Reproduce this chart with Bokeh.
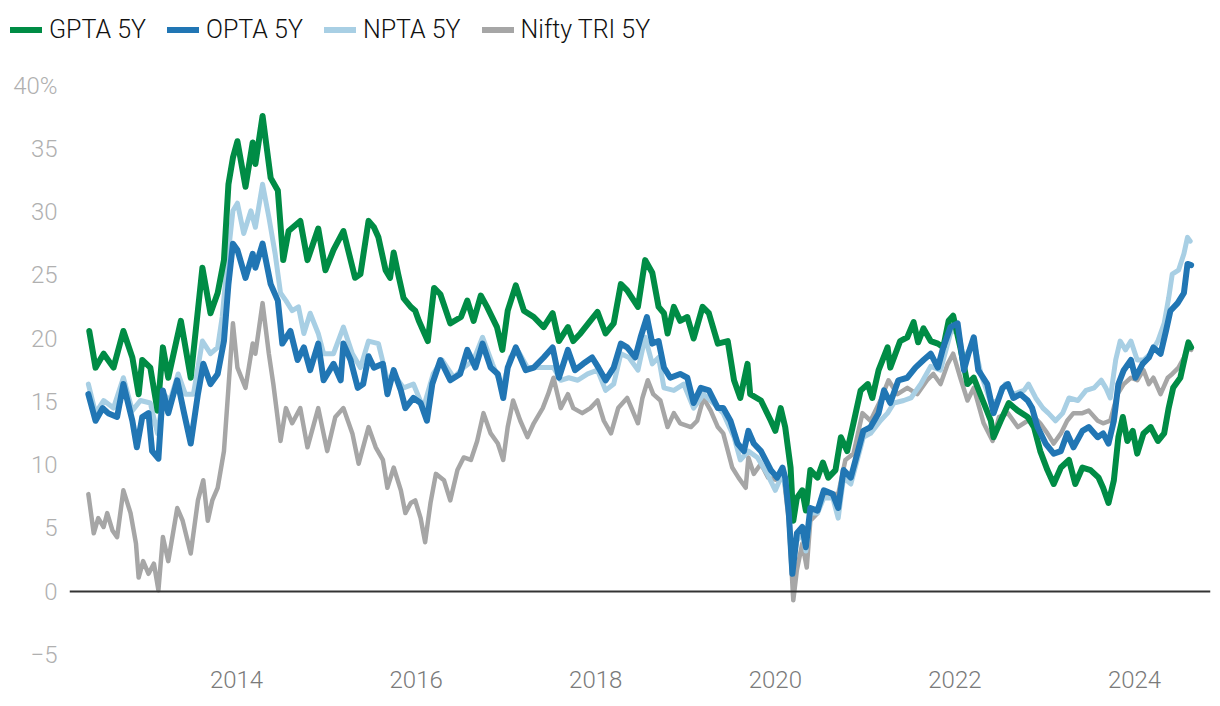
from bokeh.plotting import figure
from bokeh.layouts import column, row
from bokeh.models import Range1d, FixedTicker, Span, Legend, LegendItem
from bokeh.embed import file_html
from bokeh.resources import INLINE

# ---------------- data (decimal year, % annualised 5Y return) ----------------
gpta = [(2012.36,20.6),(2012.43,17.7),(2012.52,18.8),(2012.63,17.7),(2012.74,20.6),(2012.84,18.5),
        (2012.91,15.6),(2012.95,18.3),(2013.04,17.7),(2013.12,14.3),(2013.18,19.3),(2013.24,16.9),
        (2013.38,21.4),(2013.49,16.9),(2013.62,25.6),(2013.71,22.0),(2013.79,23.6),(2013.86,26.2),
        (2013.91,32.2),(2013.96,34.3),(2014.01,35.6),(2014.10,32.0),(2014.18,35.5),(2014.21,33.8),
        (2014.29,37.6),(2014.38,32.7),(2014.46,31.7),(2014.52,26.2),(2014.58,28.5),(2014.71,29.3),
        (2014.79,26.2),(2014.91,28.7),(2014.99,25.4),(2015.08,27.0),(2015.19,28.5),(2015.32,24.8),
        (2015.38,25.1),(2015.47,29.3),(2015.53,28.8),(2015.58,28.0),(2015.66,25.4),(2015.71,24.8),
        (2015.75,26.8),(2015.80,25.1),(2015.86,23.2),(2015.94,22.5),(2015.99,22.2),(2016.03,21.4),
        (2016.13,19.8),(2016.20,24.0),(2016.27,23.5),(2016.38,21.2),(2016.50,21.7),(2016.57,23.0),
        (2016.64,21.4),(2016.72,23.4),(2016.79,22.5),(2016.90,20.9),(2016.96,19.1),(2017.02,22.2),
        (2017.11,24.2),(2017.20,22.2),(2017.31,21.7),(2017.42,20.9),(2017.52,22.0),(2017.59,19.8),
        (2017.69,20.9),(2017.75,19.8),(2017.83,20.4),(2017.94,21.4),(2018.02,22.1),(2018.11,20.4),
        (2018.20,21.2),(2018.28,24.3),(2018.35,23.8),(2018.47,22.5),(2018.55,26.2),(2018.63,25.2),
        (2018.70,22.5),(2018.76,22.0),(2018.80,20.4),(2018.87,22.5),(2018.94,21.4),(2019.02,21.7),
        (2019.09,20.0),(2019.19,22.5),(2019.26,22.0),(2019.36,19.6),(2019.47,19.8),(2019.54,16.7),
        (2019.61,15.3),(2019.69,18.0),(2019.72,15.6),(2019.84,15.1),(2019.95,13.5),(2020.00,12.7),
        (2020.06,14.5),(2020.11,13.0),(2020.17,9.8),(2020.20,5.6),(2020.24,7.4),(2020.30,8.0),
        (2020.34,6.4),(2020.39,9.6),(2020.47,9.0),(2020.53,10.2),(2020.59,9.0),(2020.67,9.6),
        (2020.73,12.2),(2020.80,11.1),(2020.87,13.3),(2020.95,15.9),(2021.03,16.4),(2021.08,15.3),
        (2021.15,17.5),(2021.25,19.3),(2021.28,17.7),(2021.39,19.8),(2021.47,20.1),(2021.54,21.3),
        (2021.59,19.7),(2021.65,20.8),(2021.73,19.8),(2021.81,19.6),(2021.87,19.3),(2021.93,21.4),
        (2021.98,21.8),(2022.06,19.3),(2022.14,16.4),(2022.21,16.9),(2022.31,15.1),(2022.40,13.5),
        (2022.43,12.2),(2022.51,13.5),(2022.60,14.9),(2022.70,14.3),(2022.81,13.8),(2022.88,13.0),
        (2022.95,11.1),(2023.03,9.6),(2023.10,8.5),(2023.18,9.8),(2023.27,10.4),(2023.34,8.5),
        (2023.42,9.8),(2023.51,9.6),(2023.60,9.0),(2023.65,8.2),(2023.71,7.0),(2023.77,8.8),
        (2023.82,12.2),(2023.87,13.8),(2023.92,11.9),(2023.98,12.7),(2024.03,10.9),(2024.10,12.5),
        (2024.18,13.0),(2024.26,11.9),(2024.33,12.5),(2024.38,14.5),(2024.43,16.1),(2024.51,16.9),
        (2024.57,18.8),(2024.60,19.7),(2024.63,19.3)]

opta = [(2012.35,15.6),(2012.43,13.5),(2012.51,14.5),(2012.57,14.1),(2012.67,13.8),(2012.74,16.4),
        (2012.84,13.5),(2012.89,11.4),(2012.95,13.8),(2013.02,14.1),(2013.06,11.1),(2013.13,10.5),
        (2013.18,15.9),(2013.24,14.1),(2013.34,16.7),(2013.41,14.3),(2013.49,11.7),(2013.57,15.6),
        (2013.63,18.0),(2013.71,16.4),(2013.79,17.2),(2013.86,19.8),(2013.91,24.3),(2013.96,27.5),
        (2014.01,27.0),(2014.10,24.8),(2014.18,26.7),(2014.21,25.6),(2014.29,27.5),(2014.38,24.3),
        (2014.46,23.0),(2014.51,19.6),(2014.60,20.6),(2014.68,18.3),(2014.75,19.3),(2014.82,17.5),
        (2014.91,19.6),(2014.97,16.7),(2015.08,18.0),(2015.16,16.7),(2015.19,19.6),(2015.27,18.3),
        (2015.35,16.1),(2015.41,16.4),(2015.47,18.6),(2015.53,17.7),(2015.63,18.0),(2015.68,15.6),
        (2015.75,17.5),(2015.83,15.9),(2015.88,14.5),(2015.97,15.3),(2016.05,14.9),(2016.12,13.5),
        (2016.18,16.4),(2016.27,18.3),(2016.38,16.7),(2016.49,17.2),(2016.57,19.1),(2016.66,17.7),
        (2016.74,19.6),(2016.83,17.7),(2016.91,17.2),(2016.97,15.3),(2017.02,17.7),(2017.11,19.3),
        (2017.22,17.5),(2017.31,17.7),(2017.42,18.5),(2017.52,19.3),(2017.59,16.9),(2017.69,19.1),
        (2017.77,17.5),(2017.86,18.0),(2017.96,18.5),(2018.03,17.7),(2018.11,16.7),(2018.20,17.7),
        (2018.28,19.6),(2018.35,19.3),(2018.44,18.5),(2018.50,20.1),(2018.57,21.7),(2018.63,19.6),
        (2018.70,19.8),(2018.76,17.7),(2018.83,16.9),(2018.94,17.2),(2019.02,16.9),(2019.09,14.9),
        (2019.17,16.1),(2019.26,15.9),(2019.36,14.5),(2019.42,14.5),(2019.50,13.5),(2019.58,11.7),
        (2019.65,11.1),(2019.70,12.7),(2019.76,11.7),(2019.84,11.1),(2019.95,9.6),(2020.02,9.0),
        (2020.08,9.8),(2020.11,9.0),(2020.15,6.2),(2020.19,1.4),(2020.24,4.6),(2020.30,5.1),
        (2020.34,3.5),(2020.39,6.6),(2020.47,6.4),(2020.54,8.0),(2020.64,7.7),(2020.70,6.6),
        (2020.76,9.6),(2020.84,9.0),(2020.92,11.1),(2020.98,12.7),(2021.06,13.0),(2021.15,14.1),
        (2021.21,15.9),(2021.28,14.9),(2021.37,16.7),(2021.47,16.9),(2021.56,17.7),(2021.65,18.3),
        (2021.73,18.8),(2021.81,17.7),(2021.87,19.3),(2021.95,20.9),(2022.03,21.2),(2022.10,17.5),
        (2022.15,18.8),(2022.21,20.1),(2022.26,17.5),(2022.36,16.4),(2022.43,14.1),(2022.53,16.1),
        (2022.59,16.4),(2022.65,15.3),(2022.73,15.6),(2022.81,15.1),(2022.86,14.5),(2022.92,13.0),
        (2023.01,11.7),(2023.10,10.9),(2023.18,11.1),(2023.25,12.5),(2023.32,11.4),(2023.42,12.7),
        (2023.49,13.0),(2023.59,12.2),(2023.65,12.5),(2023.71,11.7),(2023.77,13.5),(2023.82,16.4),
        (2023.88,17.5),(2023.96,18.3),(2024.01,16.9),(2024.09,18.0),(2024.16,18.5),(2024.21,19.3),
        (2024.29,18.8),(2024.35,20.6),(2024.40,22.2),(2024.48,22.8),(2024.55,23.6),(2024.59,25.9),
        (2024.63,25.8)]

npta = [(2012.35,16.4),(2012.43,14.1),(2012.52,15.1),(2012.63,14.5),(2012.74,16.9),(2012.84,14.3),
        (2012.93,15.1),(2013.04,14.9),(2013.12,12.5),(2013.19,15.6),(2013.26,15.1),(2013.35,17.2),
        (2013.43,15.6),(2013.52,15.6),(2013.62,19.8),(2013.71,18.8),(2013.79,19.3),(2013.84,21.7),
        (2013.90,26.2),(2013.96,30.1),(2014.01,30.7),(2014.08,28.3),(2014.16,30.1),(2014.21,28.8),
        (2014.29,32.2),(2014.36,29.6),(2014.43,26.7),(2014.49,23.6),(2014.55,23.0),(2014.62,22.2),
        (2014.69,22.5),(2014.75,20.4),(2014.82,22.0),(2014.91,20.4),(2014.97,18.8),(2015.08,18.8),
        (2015.19,20.9),(2015.29,18.8),(2015.38,17.7),(2015.47,19.8),(2015.58,19.6),(2015.68,16.7),
        (2015.75,17.2),(2015.86,16.1),(2015.97,16.4),(2016.08,14.5),(2016.19,17.2),(2016.29,18.3),
        (2016.42,16.9),(2016.53,17.7),(2016.64,18.3),(2016.74,20.1),(2016.85,18.0),(2016.96,16.1),
        (2017.05,18.5),(2017.13,19.1),(2017.24,17.7),(2017.35,17.7),(2017.46,17.7),(2017.53,17.7),
        (2017.61,16.7),(2017.70,16.9),(2017.80,16.7),(2017.91,17.2),(2018.02,17.5),(2018.11,15.9),
        (2018.20,16.4),(2018.28,18.8),(2018.37,18.5),(2018.47,17.5),(2018.55,20.1),(2018.63,18.0),
        (2018.70,18.5),(2018.76,16.1),(2018.87,15.9),(2018.98,16.4),(2019.09,14.5),(2019.20,15.6),
        (2019.31,14.9),(2019.42,14.1),(2019.54,12.2),(2019.61,10.4),(2019.70,11.1),(2019.80,10.6),
        (2019.91,9.3),(2020.00,8.0),(2020.08,9.3),(2020.14,7.4),(2020.19,1.9),(2020.24,4.0),
        (2020.30,4.6),(2020.34,3.2),(2020.39,6.2),(2020.47,6.2),(2020.54,7.4),(2020.64,7.4),
        (2020.70,5.8),(2020.76,9.0),(2020.84,8.5),(2020.92,10.6),(2020.98,12.2),(2021.06,12.5),
        (2021.17,13.5),(2021.25,14.1),(2021.32,14.9),(2021.43,15.1),(2021.51,15.3),(2021.62,16.4),
        (2021.73,17.8),(2021.84,17.5),(2021.95,20.4),(2022.03,20.9),(2022.10,18.3),(2022.21,19.8),
        (2022.29,17.2),(2022.40,14.9),(2022.47,15.1),(2022.56,16.4),(2022.65,15.6),(2022.77,15.9),
        (2022.82,16.4),(2022.90,15.3),(2022.98,14.5),(2023.04,14.1),(2023.12,13.5),(2023.20,14.1),
        (2023.27,15.3),(2023.37,15.1),(2023.46,15.9),(2023.55,16.1),(2023.63,16.7),(2023.68,16.1),
        (2023.73,15.3),(2023.79,18.3),(2023.84,19.8),(2023.90,19.1),(2023.96,19.8),(2024.03,18.3),
        (2024.10,18.3),(2024.18,18.8),(2024.26,19.8),(2024.33,21.2),(2024.38,23.2),(2024.42,25.1),
        (2024.49,25.4),(2024.55,26.7),(2024.59,28.0),(2024.62,27.7)]

nifty = [(2012.35,7.7),(2012.41,4.6),(2012.46,5.8),(2012.52,5.1),(2012.56,6.2),(2012.62,4.8),
         (2012.67,4.3),(2012.74,8.0),(2012.82,6.2),(2012.88,3.8),(2012.91,1.1),(2012.96,2.4),
         (2013.02,1.4),(2013.08,2.2),(2013.13,0.1),(2013.18,4.3),(2013.24,2.4),(2013.34,6.6),
         (2013.40,5.6),(2013.49,3.0),(2013.57,7.2),(2013.63,8.8),(2013.68,5.6),(2013.73,7.2),
         (2013.79,8.2),(2013.86,11.1),(2013.91,16.1),(2013.96,21.2),(2014.01,17.7),(2014.10,16.1),
         (2014.18,19.6),(2014.21,18.8),(2014.29,22.8),(2014.36,18.8),(2014.41,16.4),(2014.49,11.9),
         (2014.55,14.5),(2014.62,13.3),(2014.71,14.5),(2014.79,11.4),(2014.91,14.5),(2015.01,11.1),
         (2015.10,13.8),(2015.19,14.5),(2015.29,12.5),(2015.36,10.1),(2015.47,13.0),(2015.55,11.4),
         (2015.63,10.4),(2015.68,8.2),(2015.75,9.8),(2015.83,8.0),(2015.88,6.2),(2015.94,7.0),
         (2015.99,7.2),(2016.05,5.8),(2016.10,3.9),(2016.16,7.0),(2016.22,9.3),(2016.31,8.8),
         (2016.38,7.2),(2016.46,9.6),(2016.53,10.6),(2016.61,10.4),(2016.68,11.9),(2016.75,14.1),
         (2016.83,12.5),(2016.91,11.7),(2016.97,10.4),(2017.02,13.0),(2017.08,15.1),(2017.16,13.5),
         (2017.24,12.2),(2017.31,13.3),(2017.41,14.5),(2017.47,15.6),(2017.53,16.9),(2017.61,14.5),
         (2017.69,15.6),(2017.75,14.5),(2017.85,14.1),(2017.94,14.5),(2018.02,15.1),(2018.09,13.5),
         (2018.17,12.5),(2018.25,14.5),(2018.35,15.3),(2018.47,13.3),(2018.52,15.3),(2018.58,16.7),
         (2018.64,15.6),(2018.72,15.1),(2018.80,13.0),(2018.87,14.1),(2018.94,13.3),(2019.06,13.0),
         (2019.13,13.5),(2019.20,15.3),(2019.28,14.3),(2019.36,13.0),(2019.42,12.5),(2019.52,9.8),
         (2019.59,9.0),(2019.67,8.2),(2019.70,10.6),(2019.76,9.3),(2019.84,10.1),(2019.92,9.0),
         (2020.02,8.8),(2020.09,9.3),(2020.15,5.6),(2020.20,-0.7),(2020.24,1.7),(2020.30,3.8),
         (2020.35,1.9),(2020.39,5.6),(2020.47,6.2),(2020.54,7.7),(2020.64,7.7),(2020.70,7.7),
         (2020.78,10.4),(2020.87,10.9),(2020.97,14.1),(2021.06,13.5),(2021.17,15.1),(2021.26,16.7),
         (2021.36,15.6),(2021.47,16.1),(2021.58,15.6),(2021.69,16.7),(2021.76,17.2),(2021.84,16.4),
         (2021.92,18.0),(2021.98,18.8),(2022.06,16.9),(2022.14,15.1),(2022.21,16.1),(2022.32,13.3),
         (2022.42,11.9),(2022.49,13.8),(2022.59,14.1),(2022.70,13.0),(2022.81,13.5),(2022.88,13.8),
         (2022.95,13.3),(2023.03,12.5),(2023.10,11.7),(2023.18,12.5),(2023.25,13.5),(2023.32,14.1),
         (2023.42,14.1),(2023.49,14.3),(2023.59,13.5),(2023.65,13.3),(2023.73,13.5),(2023.81,15.6),
         (2023.88,16.4),(2023.96,16.9),(2024.03,16.7),(2024.10,17.5),(2024.16,16.4),(2024.21,16.9),
         (2024.29,15.6),(2024.37,16.9),(2024.42,17.2),(2024.49,17.7),(2024.55,18.5),(2024.60,19.3),
         (2024.63,19.1)]

series_names = ["GPTA 5Y", "OPTA 5Y", "NPTA 5Y", "Nifty TRI 5Y"]
series_colors = ["#008C45", "#2176B4", "#A8CFE4", "#A6A6A6"]
x_ticks = [2014, 2016, 2018, 2020, 2022, 2024]
y_ticks = [-5, 0, 5, 10, 15, 20, 25, 30, 35, 40]
y_tick_labels = {v: str(v) for v in y_ticks}
y_tick_labels[40] = "40%"
y_tick_labels[-5] = "\u22125"

FONT = "Roboto Light, Roboto"
data = {"GPTA 5Y": gpta, "OPTA 5Y": opta, "NPTA 5Y": npta, "Nifty TRI 5Y": nifty}
widths = {"GPTA 5Y": 6, "OPTA 5Y": 6, "NPTA 5Y": 5, "Nifty TRI 5Y": 4.5}
colors = dict(zip(series_names, series_colors))

# ---------------- main chart ----------------
p = figure(width=1216, height=640, output_backend="svg", toolbar_location=None,
           x_range=Range1d(2012.14, 2024.846), y_range=Range1d(-5.85, 41.19),
           min_border_left=69, min_border_right=6, min_border_top=10, min_border_bottom=35)
p.outline_line_color = None
p.background_fill_color = "white"
p.border_fill_color = "white"
p.xgrid.visible = False
p.ygrid.visible = False

for ax in (p.xaxis[0], p.yaxis[0]):
    ax.axis_line_color = None
    ax.major_tick_line_color = None
    ax.minor_tick_line_color = None
    ax.major_tick_out = 0
    ax.major_tick_in = 0
    ax.major_label_text_font = FONT
    ax.major_label_text_font_size = "24px"

p.xaxis[0].ticker = FixedTicker(ticks=x_ticks)
p.xaxis[0].major_label_overrides = {t: str(t) for t in x_ticks}
p.xaxis[0].major_label_text_color = "#7a7a7a"
p.xaxis[0].major_label_standoff = 5

p.yaxis[0].ticker = FixedTicker(ticks=y_ticks)
p.yaxis[0].major_label_overrides = y_tick_labels
p.yaxis[0].major_label_text_color = "#b0b0b0"
p.yaxis[0].major_label_standoff = 12

p.add_layout(Span(location=0, dimension="width", line_color="#333333", line_width=2))

for name in ["Nifty TRI 5Y", "NPTA 5Y", "GPTA 5Y", "OPTA 5Y"]:
    xs = [a for a, b in data[name]]
    ys = [b for a, b in data[name]]
    p.line(xs, ys, line_color=colors[name], line_width=widths[name],
           line_join="round", line_cap="round")

# ---------------- legend strip (same line styles, no visible data) ----------------
lg = figure(width=1216, height=60, output_backend="svg", toolbar_location=None,
            x_range=Range1d(0, 1), y_range=Range1d(0, 1),
            x_axis_location=None, y_axis_location=None,
            min_border_left=0, min_border_right=0, min_border_top=0, min_border_bottom=0)
lg.outline_line_color = None
lg.grid.visible = False
lg.border_fill_color = "white"
items = []
nan = float("nan")
for name in series_names:
    r = lg.line(x=[nan], y=[nan], line_color=colors[name], line_width=6,
                line_join="round", line_cap="round")
    items.append(LegendItem(label=name, renderers=[r]))
legend = Legend(items=items, orientation="horizontal", location=(10, 16),
                border_line_color=None, background_fill_alpha=0,
                label_text_font=FONT, label_text_font_size="25px", label_text_color="#111111",
                glyph_width=32, glyph_height=25, label_standoff=7, spacing=21,
                padding=0, margin=0, label_height=25)
lg.add_layout(legend)

layout = column(row(lg), row(p), spacing=0)
open("out.html", "w").write(file_html(layout, INLINE))
